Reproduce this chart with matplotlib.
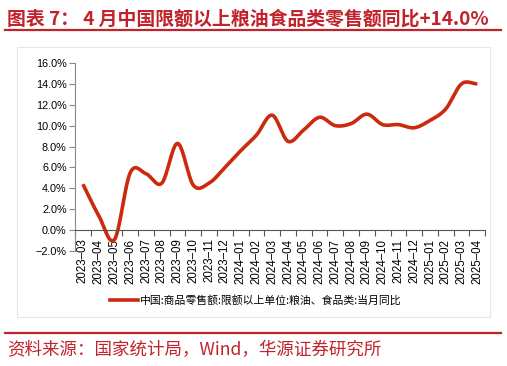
import matplotlib
matplotlib.use("Agg")
import matplotlib.pyplot as plt
from matplotlib.lines import Line2D
from matplotlib.patches import Rectangle
import numpy as np

months = ["2023-03", "2023-04", "2023-05", "2023-06", "2023-07", "2023-08",
          "2023-09", "2023-10", "2023-11", "2023-12", "2024-01", "2024-02",
          "2024-03", "2024-04", "2024-05", "2024-06", "2024-07", "2024-08",
          "2024-09", "2024-10", "2024-11", "2024-12", "2025-01", "2025-02",
          "2025-03", "2025-04"]
yoy = [4.4, 1.4, -0.9, 5.5, 5.4, 4.5, 8.3, 4.3, 4.5, 6.0, 7.6, 9.1,
       11.0, 8.5, 9.6, 10.8, 10.0, 10.2, 11.1, 10.1, 10.1, 9.8, 10.5, 11.6,
       14.0, 14.0]
yticks = [-2, 0, 2, 4, 6, 8, 10, 12, 14, 16]

title = "图表 7： 4 月中国限额以上粮油食品类零售额同比+14.0%"
legend_label = "中国:商品零售额:限额以上单位:粮油、食品类:当月同比"
source = "资料来源：国家统计局，Wind，华源证券研究所"

RED = "#C0232B"
LINE_RED = "#CC2A0E"
CJK = ["Noto Sans CJK SC", "DejaVu Sans"]


def catmull_rom(x, y, n=20):
    x = np.asarray(x, float)
    y = np.asarray(y, float)
    px = np.concatenate([[2 * x[0] - x[1]], x, [2 * x[-1] - x[-2]]])
    py = np.concatenate([[2 * y[0] - y[1]], y, [2 * y[-1] - y[-2]]])
    xs, ys = [], []
    t = np.linspace(0, 1, n, endpoint=False)
    for i in range(1, len(px) - 2):
        for arr, out in ((px, xs), (py, ys)):
            p0, p1, p2, p3 = arr[i - 1], arr[i], arr[i + 1], arr[i + 2]
            out.extend(0.5 * (2 * p1 + (-p0 + p2) * t
                              + (2 * p0 - 5 * p1 + 4 * p2 - p3) * t ** 2
                              + (-p0 + 3 * p1 - 3 * p2 + p3) * t ** 3))
    xs.append(x[-1])
    ys.append(y[-1])
    return np.array(xs), np.array(ys)


plt.rcParams['font.family'] = ['Liberation Sans', 'Noto Sans CJK SC']

fig = plt.figure(figsize=(5.07, 3.66), dpi=100)

# title and separators
fig.text(0.014, 0.948, title, color=RED, fontsize=13.6, family=CJK,
         fontweight='bold', va='center', ha='left')
fig.add_artist(Line2D([0.01, 0.988], [0.918, 0.918], color=RED, lw=1.6))
fig.add_artist(Line2D([0.01, 0.988], [0.09, 0.09], color=RED, lw=1.6))
fig.text(0.014, 0.043, source, color=RED, fontsize=12.6, family=CJK,
         va='center', ha='left')

# light frame around chart
fig.add_artist(Rectangle((0.034, 0.134), 0.933, 0.738, transform=fig.transFigure,
                         fill=False, ec="#E6E6E6", lw=0.8))

ax = fig.add_axes([0.148, 0.314, 0.809, 0.514])
for s in ('top', 'right'):
    ax.spines[s].set_visible(False)
ax.spines['bottom'].set_position(('data', 0))
ax.spines['bottom'].set_color("#555555")
ax.spines['left'].set_color("#888888")
ax.set_facecolor('none')

x = np.arange(len(months))
sx, sy = catmull_rom(x, yoy)
ax.plot(sx, sy, color=LINE_RED, lw=2.6, solid_capstyle='butt')

ax.set_ylim(-2, 16)
ax.set_xlim(-0.47, len(months) - 1 + 0.46)
ax.set_yticks(yticks)
ax.set_yticklabels([f"{v:.1f}%".replace("-", "\u2212") for v in yticks], fontsize=7.8)

ax.set_xticks(x)
ax.set_xticklabels([m.replace("-", "\u2013") for m in months], rotation=90,
                   fontsize=8.3, va='top')
ax.set_xticks(np.arange(-0.5, len(months), 1), minor=True)
ax.tick_params(axis='x', which='major', length=0, pad=6)
ax.tick_params(axis='x', which='minor', length=4, color="#555555", width=0.8)
ax.tick_params(axis='y', length=4, color="#888888", width=0.8, pad=2)

handle = Line2D([], [], color=LINE_RED, lw=2.6)
fig.legend([handle], [legend_label], loc='center', bbox_to_anchor=(0.505, 0.18),
           frameon=False, handlelength=2.6, handletextpad=0.2,
           prop={'family': CJK, 'size': 7.8})

fig.savefig("out.png", dpi=100)
